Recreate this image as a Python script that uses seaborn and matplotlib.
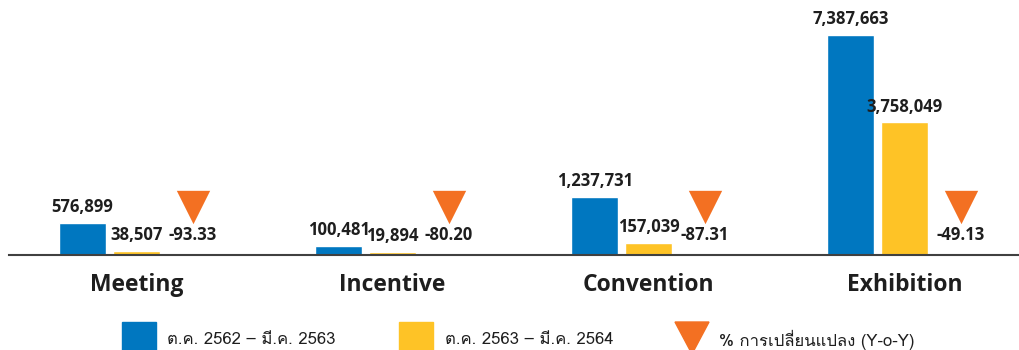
import matplotlib
matplotlib.use("Agg")
import matplotlib.pyplot as plt
from matplotlib import font_manager as fm
from matplotlib.patches import Rectangle, Polygon
from matplotlib.transforms import blended_transform_factory
import numpy as np
import pandas as pd
import seaborn as sns

# ---------------- data ----------------
categories = ["Meeting", "Incentive", "Convention", "Exhibition"]
series_names = ["ต.ค. 2562 – มี.ค. 2563", "ต.ค. 2563 – มี.ค. 2564"]
values_2562 = [576899, 100481, 1237731, 7387663]
values_2563 = [38507, 19894, 157039, 3758049]
pct_change = [-93.33, -80.20, -87.31, -49.13]
pct_label = "% การเปลี่ยนแปลง (Y-o-Y)"

BLUE = "#0077C0"
YELLOW = "#FEC326"
ORANGE = "#F37022"
TEXT = "#1E1E1E"


def find_thai_font():
    try:
        from fontTools.ttLib import TTFont
    except Exception:
        return None
    for f in fm.fontManager.ttflist:
        try:
            tt = TTFont(f.fname, fontNumber=0, lazy=True)
            cmap = tt.getBestCmap()
            if cmap and 0x0E01 in cmap and 0x0E35 in cmap and 0x0E40 in cmap:
                return f.name
        except Exception:
            continue
    return None


thai = find_thai_font()
sns.set_theme(style="white")
plt.rcParams["font.family"] = ["Open Sans", "DejaVu Sans"]
legend_family = ([thai] if thai else []) + ["Open Sans", "DejaVu Sans"]

W, H = 1019, 350
fig = plt.figure(figsize=(W / 100, H / 100), dpi=100)
base_px = 255  # baseline from top
ax = fig.add_axes([9 / W, (H - base_px) / H, 1 - 9 / W, base_px / H])

# long-form data, bars placed left of the category centre
rows = []
for i, c in enumerate(categories):
    rows.append({"pos": i - 0.105, "value": values_2562[i], "series": series_names[0]})
    rows.append({"pos": i - 0.105, "value": values_2563[i], "series": series_names[1]})
df = pd.DataFrame(rows)

p = 0.75
fwd = lambda v: np.sign(v) * np.abs(v) ** p
inv = lambda v: np.sign(v) * np.abs(v) ** (1 / p)
ax.set_yscale("function", functions=(fwd, inv))

sns.barplot(data=df, x="pos", y="value", hue="series", hue_order=series_names,
            palette=[BLUE, YELLOW], native_scale=True, width=0.422, gap=0.128,
            saturation=1, legend=False, ax=ax, errorbar=None)

top = inv(fwd(max(values_2562)) * base_px / 220)
ax.set_ylim(0, top)
ax.set_xlim(-0.498, 3.447)

for cont in ax.containers:
    vals = [b.get_height() for b in cont]
    ax.bar_label(cont, labels=[f"{int(round(v)):,}" for v in vals], padding=5,
                 fontsize=12, fontweight="bold", color=TEXT)

# triangles for % change
trans = blended_transform_factory(ax.transData, ax.transAxes)
tri_x = [i + 0.22 for i in range(len(categories))]
ax.scatter(tri_x, [48 / base_px] * len(tri_x), marker="v", s=24 ** 2,
           color=ORANGE, transform=trans, linewidths=0, clip_on=False, zorder=3)
for x, v in zip(tri_x, pct_change):
    ax.text(x, 20 / base_px, f"{v:.2f}", transform=trans, ha="center", va="center",
            fontsize=12, fontweight="bold", color=TEXT)

ax.set_xticks(range(len(categories)))
ax.set_xticklabels(categories, fontsize=16.5, fontweight="bold", color=TEXT)
ax.tick_params(axis="x", length=0, pad=13)
ax.set_yticks([])
ax.set_xlabel("")
ax.set_ylabel("")
for s in ["top", "left", "right"]:
    ax.spines[s].set_visible(False)
ax.spines["bottom"].set_color("#404040")
ax.spines["bottom"].set_linewidth(1.5)

# legend (manual, pixel positions)
def fx(px):
    return px / W

def fy(py):
    return (H - py) / H

fig.add_artist(Rectangle((fx(122), fy(351)), 34 / W, 29 / H, color=BLUE,
                         transform=fig.transFigure))
fig.add_artist(Rectangle((fx(399), fy(351)), 34 / W, 29 / H, color=YELLOW,
                         transform=fig.transFigure))
fig.add_artist(Polygon([[fx(675), fy(322)], [fx(709), fy(322)], [fx(692), fy(354)]],
                       closed=True, color=ORANGE, transform=fig.transFigure))
for px, t in [(167, series_names[0]), (445, series_names[1]), (719, pct_label)]:
    fig.text(fx(px), fy(340), t, ha="left", va="center", fontsize=12,
             family=legend_family, color=TEXT)

fig.savefig("out.png", dpi=100, facecolor="white")
